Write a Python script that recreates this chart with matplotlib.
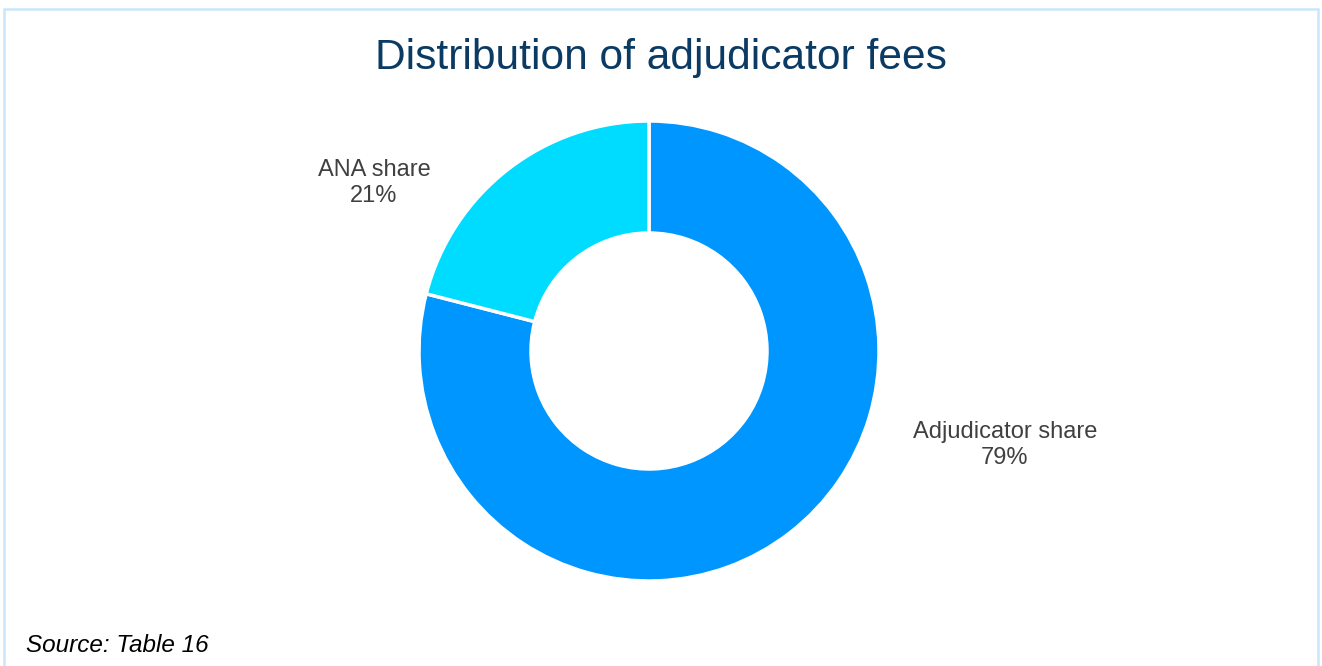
import matplotlib.pyplot as plt
from matplotlib.patches import Rectangle

plt.rcParams['font.family'] = ['Liberation Sans', 'DejaVu Sans']

# Data
categories = ['Adjudicator share', 'ANA share']
shares = [79, 21]
colors = ['#0096FF', '#00DCFF']

W, H = 1322, 666
fig = plt.figure(figsize=(W / 100, H / 100), dpi=100)

# light blue frame around the chart
fig.patches.append(Rectangle((4 / W, -0.05), 1314 / W, 1 + 0.05 - 9 / H,
                             transform=fig.transFigure, fill=False,
                             edgecolor='#CBE6FB', linewidth=1.8))

# donut axes, placed by pixel centre/radius
cx, cy, r = 649, 351, 230
ax = fig.add_axes([(cx - r) / W, (H - cy - r) / H, 2 * r / W, 2 * r / H])
ax.pie(shares, colors=colors, startangle=90, counterclock=False, radius=1,
       wedgeprops=dict(width=1 - 118 / 230, edgecolor='white', linewidth=2.5))
ax.set_xlim(-1, 1)
ax.set_ylim(-1, 1)
ax.set_aspect('equal')
ax.axis('off')

# labels
label_pos = [(1005, 445), (374, 183)]
for cat, val, (px, py) in zip(categories, shares, label_pos):
    fig.text(px / W, 1 - py / H, f'{cat}\n{val}%', ha='center', va='center',
             fontsize=17, color='#404040', linespacing=1.2)

fig.text(661 / W, 1 - 58 / H, 'Distribution of adjudicator fees', ha='center',
         va='center', fontsize=30.6, color='#0B3A63')
fig.text(26 / W, 1 - 645 / H, 'Source: Table 16', ha='left', va='center',
         fontsize=17.5, style='italic', color='black')

fig.savefig('out.png', dpi=100)
